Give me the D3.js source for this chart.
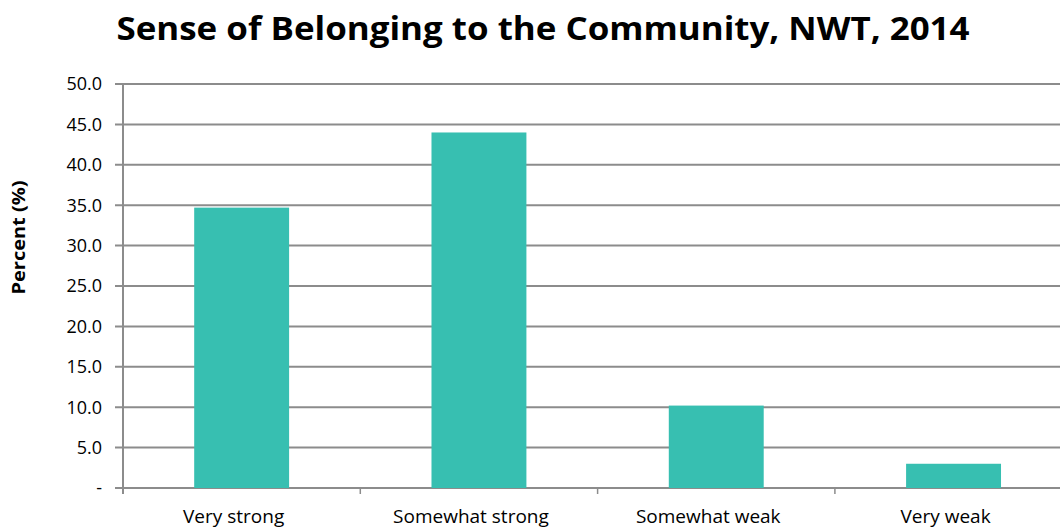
<!DOCTYPE html>
<html><head><meta charset="utf-8">
<script src="https://cdn.jsdelivr.net/npm/d3@7"></script>
<style>body{margin:0;background:#fff;} svg{display:block;}</style>
</head><body>
<script>
const categories = ["Very strong", "Somewhat strong", "Somewhat weak", "Very weak"];
const values = [34.7, 44.0, 10.2, 3.0];
const yTicks = [0, 5, 10, 15, 20, 25, 30, 35, 40, 45, 50];
const titleText = "Sense of Belonging to the Community, NWT, 2014";
const yTitle = "Percent (%)";

(function () {
const W = 1060, H = 531;
const svg = d3.select("body").append("svg").attr("width", W).attr("height", H);
const left = 123, bandW = 237.3, plotTop = 84, plotBottom = 488;
const x = d3.scaleBand().domain(categories).range([left, left + bandW * categories.length]).paddingInner(0.6).paddingOuter(0.3);
const y = d3.scaleLinear().domain([0, 50]).range([plotBottom, plotTop]);
const font = "'Open Sans', sans-serif";
const grid = "#8c8c8c";

// gridlines
svg.append("g").selectAll("line").data(yTicks).join("line")
  .attr("x1", left - 8).attr("x2", W).attr("y1", d => y(d)).attr("y2", d => y(d))
  .attr("stroke", grid).attr("stroke-width", 2);

// bars
svg.append("g").selectAll("rect").data(values).join("rect")
  .attr("x", (d, i) => x(categories[i])).attr("width", x.bandwidth())
  .attr("y", d => y(d)).attr("height", d => y(0) - y(d))
  .attr("fill", "#37bfb1");

// y axis line
svg.append("line").attr("x1", left).attr("x2", left).attr("y1", plotTop).attr("y2", plotBottom + 6)
  .attr("stroke", grid).attr("stroke-width", 2);
// x ticks at band boundaries
const bounds = d3.range(categories.length + 1).map(i => left + i * bandW);
svg.append("g").selectAll("line").data(bounds).join("line")
  .attr("x1", d => d).attr("x2", d => d).attr("y1", plotBottom).attr("y2", plotBottom + 6)
  .attr("stroke", grid).attr("stroke-width", 1.5);

// y tick labels
svg.append("g").selectAll("text").data(yTicks).join("text")
  .attr("x", 102).attr("y", d => y(d)).attr("dy", "0.36em").attr("text-anchor", "end")
  .style("font-family", font).style("font-size", "18px").attr("fill", "#000")
  .text(d => d === 0 ? "-" : d.toFixed(1));
// category labels
svg.append("g").selectAll("text").data(categories).join("text")
  .attr("x", d => x(d) + x.bandwidth() / 2 - 8).attr("y", 523).attr("text-anchor", "middle")
  .style("font-family", font).style("font-size", "19px").attr("fill", "#000")
  .text(d => d);

// y title
svg.append("text").attr("transform", "translate(25,237.5) rotate(-90)")
  .attr("text-anchor", "middle").style("font-family", font).style("font-size", "17px")
  .style("font-weight", "bold").attr("textLength", 114).attr("lengthAdjust", "spacingAndGlyphs")
  .text(yTitle);

// title
svg.append("text").attr("x", 543).attr("y", 40).attr("text-anchor", "middle")
  .style("font-family", font).style("font-size", "33px").style("font-weight", "bold")
  .attr("textLength", 853).attr("lengthAdjust", "spacingAndGlyphs")
  .text(titleText);
})();
</script>
</body></html>
